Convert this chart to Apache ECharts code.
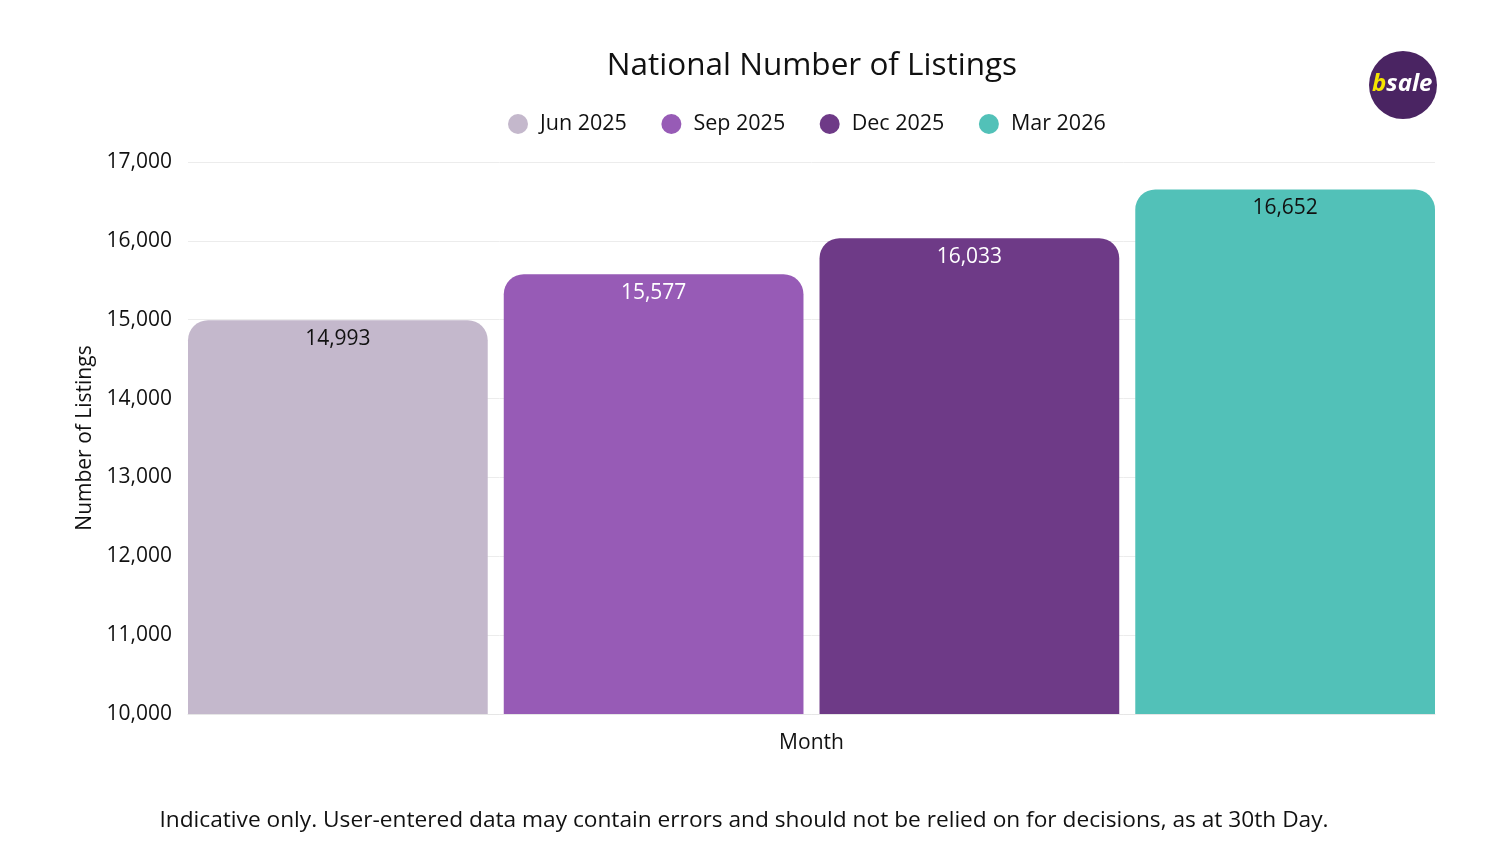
<!DOCTYPE html>
<html><head><meta charset="utf-8">
<script src="https://cdn.jsdelivr.net/npm/echarts@6/dist/echarts.min.js"></script>
<style>html,body{margin:0;padding:0;background:#fff}#c{width:1488px;height:850px}</style>
</head><body><div id="c"></div>
<script>
const categories = ['Month'];
const seriesNames = ['Jun 2025', 'Sep 2025', 'Dec 2025', 'Mar 2026'];
const seriesValues = [14993, 15577, 16033, 16652];
const colors = ['#C4B8CC', '#975BB6', '#6E3A87', '#52C1B8'];
const labelColors = ['#111', '#fff', '#fff', '#111'];
const font = '"Open Sans", "Noto Sans", sans-serif';

const chart = echarts.init(document.getElementById('c'));
chart.setOption({
  animation: false,
  textStyle: { fontFamily: font },
  title: {
    text: 'National Number of Listings',
    left: 807, top: 45, textAlign: 'center',
    textStyle: { fontFamily: font, fontSize: 31.5, fontWeight: 'normal', color: '#111' }
  },
  legend: {
    left: 508, top: 113, padding: 0, itemWidth: 20, itemHeight: 20, itemGap: 34.5,
    icon: 'circle',
    textStyle: { fontFamily: font, fontSize: 21.5, color: '#111', padding: [0, 0, 0, 7] },
    data: seriesNames
  },
  grid: { left: 188, right: 53, top: 162, bottom: 136 },
  xAxis: {
    type: 'category', data: categories,
    name: 'Month', nameLocation: 'middle', nameGap: 19,
    nameTextStyle: { fontFamily: font, fontSize: 21, color: '#111' },
    axisLabel: { show: false }, axisTick: { show: false },
    axisLine: { lineStyle: { color: '#e6e6e6' } }
  },
  yAxis: {
    type: 'value', min: 10000, max: 17000, interval: 1000,
    name: 'Number of Listings', nameLocation: 'middle', nameGap: 92,
    nameTextStyle: { fontFamily: font, fontSize: 21, color: '#111' },
    axisLabel: { fontFamily: font, fontSize: 21, color: '#111', margin: 16,
      formatter: v => v.toLocaleString('en-US') },
    splitLine: { lineStyle: { color: '#ececec' } },
    axisLine: { show: false }, axisTick: { show: false }
  },
  series: seriesNames.map((n, i) => ({
    name: n, type: 'bar',
    data: [seriesValues[i]],
    barCategoryGap: '0%', barGap: '5.35%',
    itemStyle: { color: colors[i], borderRadius: [20, 20, 0, 0] },
    label: {
      show: true, position: 'insideTop', distance: 8,
      fontFamily: font, fontSize: 21, color: labelColors[i],
      formatter: p => p.value.toLocaleString('en-US')
    }
  })),
  graphic: [
    { type: 'circle', shape: { cx: 1403, cy: 85, r: 34 }, style: { fill: '#4A2462' } },
    { type: 'text', left: 1372, top: 72, style: {
        rich: {
          b: { fill: '#F5E400', fontSize: 24, fontWeight: 'bold', fontStyle: 'italic', fontFamily: font },
          s: { fill: '#fff', fontSize: 24, fontWeight: 'bold', fontStyle: 'italic', fontFamily: font }
        },
        text: '{b|b}{s|sale}'
    } },
    { type: 'text', left: 'center', top: 809, style: {
        text: 'Indicative only. User-entered data may contain errors and should not be relied on for decisions, as at 30th Day.',
        fill: '#111', fontSize: 22.7, fontFamily: font
    } }
  ]
});
</script></body></html>
